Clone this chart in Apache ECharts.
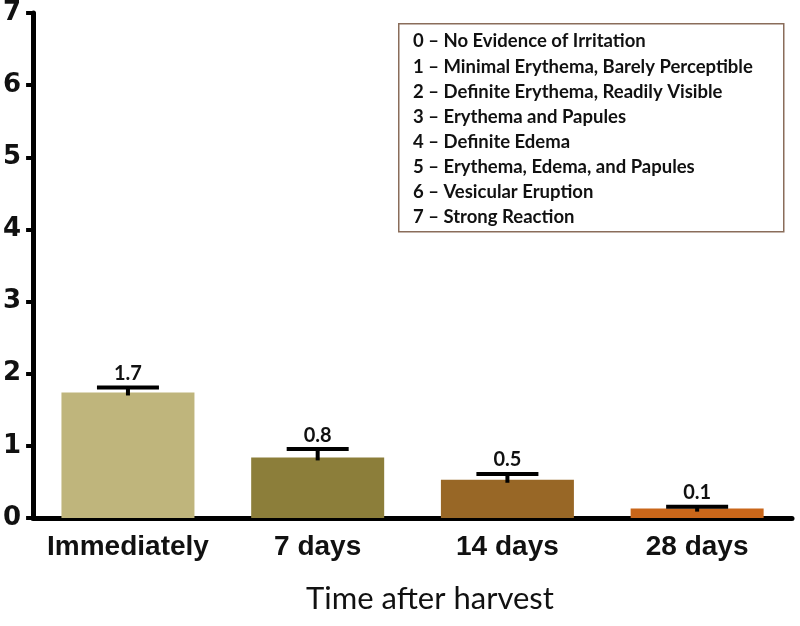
<!DOCTYPE html>
<html>
<head>
<meta charset="utf-8">
<script src="https://cdn.jsdelivr.net/npm/echarts@6/dist/echarts.min.js"></script>
<style>html,body{margin:0;padding:0;background:#fff;}#c{width:800px;height:626px;}</style>
</head>
<body>
<div id="c"></div>
<script>
var categories = ['Immediately', '7 days', '14 days', '28 days'];
var means = [1.74, 0.84, 0.53, 0.13];
var upper = [1.81, 0.955, 0.61, 0.155];
var valueLabels = ['1.7', '0.8', '0.5', '0.1'];
var barColors = ['#BFB57C', '#8C7E3A', '#986726', '#C9661A'];
var yTicks = [0, 1, 2, 3, 4, 5, 6, 7];
var legendLines = [
  '0 \u2013 No Evidence of Irritation',
  '1 \u2013 Minimal Erythema, Barely Perceptible',
  '2 \u2013 Definite Erythema, Readily Visible',
  '3 \u2013 Erythema and Papules',
  '4 \u2013 Definite Edema',
  '5 \u2013 Erythema, Edema, and Papules',
  '6 \u2013 Vesicular Eruption',
  '7 \u2013 Strong Reaction'
];
var xAxisTitle = 'Time after harvest';

var chart = echarts.init(document.getElementById('c'));

var legendGraphics = [{
  type: 'rect',
  left: 398, top: 23,
  shape: {width: 385, height: 208},
  style: {fill: '#fff', stroke: '#8a6d5a', lineWidth: 1.5},
  z: 10
}];
legendLines.forEach(function (t, i) {
  legendGraphics.push({
    type: 'text',
    left: 413,
    top: 32 + i * 25.1,
    style: {text: t, font: 'bold 18.5px Lato', fill: '#111'},
    z: 11
  });
});
legendGraphics.push({
  type: 'text',
  x: 430,
  y: 583,
  style: {text: xAxisTitle, font: '31px Lato', fill: '#111', textAlign: 'center'}
});

var option = {
  animation: false,
  backgroundColor: '#fff',
  grid: {left: 32, right: 8, top: 12, bottom: 108, containLabel: false},
  xAxis: {
    type: 'category',
    data: categories,
    axisLine: {lineStyle: {color: '#000', width: 5}},
    axisTick: {alignWithLabel: true, length: 7, lineStyle: {color: '#000', width: 4}},
    axisLabel: {interval: 0, color: '#111', fontFamily: 'Liberation Sans', fontWeight: 'bold', fontSize: 28, margin: 15}
  },
  yAxis: {
    type: 'value',
    min: yTicks[0], max: yTicks[yTicks.length - 1], interval: 1,
    splitLine: {show: false},
    axisLine: {show: true, lineStyle: {color: '#000', width: 5}},
    axisTick: {show: true, length: 7, lineStyle: {color: '#000', width: 4}},
    axisLabel: {color: '#111', fontFamily: 'DejaVu Sans', fontWeight: 'bold', fontSize: 26, margin: 12}
  },
  graphic: legendGraphics,
  series: [
    {
      type: 'bar',
      data: means.map(function (v, i) { return {value: v, itemStyle: {color: barColors[i]}}; }),
      barWidth: 133,
      z: 2
    },
    {
      type: 'custom',
      data: categories.map(function (c, i) { return [i, means[i], upper[i]]; }),
      renderItem: function (params, api) {
        var i = api.value(0);
        var lo = api.coord([i, api.value(1)]);
        var hi = api.coord([i, api.value(2)]);
        var hw = 31;
        return {
          type: 'group',
          children: [
            {type: 'line', shape: {x1: hi[0], y1: hi[1], x2: lo[0], y2: lo[1] + 3}, style: {stroke: '#000', lineWidth: 4}},
            {type: 'line', shape: {x1: hi[0] - hw, y1: hi[1], x2: hi[0] + hw, y2: hi[1]}, style: {stroke: '#000', lineWidth: 4}},
            {type: 'text', x: hi[0], y: hi[1] - 4, style: {text: valueLabels[params.dataIndex], font: 'bold 20px Lato', fill: '#111', textAlign: 'center', textVerticalAlign: 'bottom'}}
          ]
        };
      },
      z: 3
    }
  ]
};
chart.setOption(option);
</script>
</body>
</html>
